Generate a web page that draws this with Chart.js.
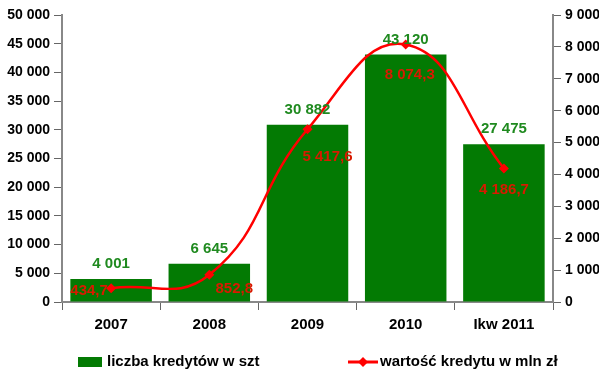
<!DOCTYPE html>
<html><head><meta charset="utf-8">
<script src="https://cdn.jsdelivr.net/npm/chart.js@4/dist/chart.umd.min.js"></script>
<style>html,body{margin:0;padding:0;background:#fff}#wrap{width:599px;height:379px}</style>
</head><body><div id="wrap"><canvas id="c" width="599" height="379"></canvas></div>
<script>
const categories = ['2007', '2008', '2009', '2010', 'Ikw 2011'];
const loanCounts = [4001, 6645, 30882, 43120, 27475];
const loanValues = [434.7, 852.8, 5417.6, 8074.3, 4186.7];
const leftTicks = [0, 5000, 10000, 15000, 20000, 25000, 30000, 35000, 40000, 45000, 50000];
const rightTicks = [0, 1000, 2000, 3000, 4000, 5000, 6000, 7000, 8000, 9000];
const seriesNames = ['liczba kredytów w szt', 'wartość kredytu w mln zł'];

function fmt(v, dec) {
  const s = v.toFixed(dec);
  const parts = s.split('.');
  const int = parts[0].replace(/\B(?=(\d{3})+(?!\d))/g, ' ');
  return parts[1] ? int + ',' + parts[1] : int;
}

const FONT = '"Liberation Sans", Arial, sans-serif';
const GREEN = '#037a03';
const RED = '#ff0000';

const labelOffsets = [[-22, 3], [25, 14], [20, 28], [4, 30], [0, 21]];

const valueLabels = {
  id: 'valueLabels',
  afterDatasetsDraw(chart) {
    const ctx = chart.ctx;
    ctx.save();
    ctx.font = 'bold 15px ' + FONT;
    ctx.textAlign = 'center';
    ctx.textBaseline = 'middle';
    const bm = chart.getDatasetMeta(1);
    bm.data.forEach((el, i) => {
      ctx.fillStyle = '#1f8a1f';
      ctx.fillText(fmt(loanCounts[i], 0), el.x, el.y - 15);
    });
    const lm = chart.getDatasetMeta(0);
    lm.data.forEach((el, i) => {
      ctx.fillStyle = '#d81a00';
      ctx.fillText(fmt(loanValues[i], 1), el.x + labelOffsets[i][0], el.y + labelOffsets[i][1]);
    });
    ctx.restore();
  },
  afterDraw(chart) {
    const ctx = chart.ctx;
    const y = 362;
    ctx.save();
    ctx.font = 'bold 15px ' + FONT;
    ctx.textAlign = 'left';
    ctx.textBaseline = 'middle';
    ctx.fillStyle = GREEN;
    ctx.fillRect(78, y - 5, 24, 10);
    ctx.fillStyle = '#000';
    ctx.fillText(seriesNames[0], 107, y);
    ctx.strokeStyle = RED; ctx.lineWidth = 3;
    ctx.beginPath(); ctx.moveTo(348, y); ctx.lineTo(378, y); ctx.stroke();
    ctx.fillStyle = RED;
    ctx.beginPath(); ctx.moveTo(363, y - 5); ctx.lineTo(368, y); ctx.lineTo(363, y + 5); ctx.lineTo(358, y); ctx.closePath(); ctx.fill();
    ctx.fillStyle = '#000';
    ctx.fillText(seriesNames[1], 380, y);
    ctx.restore();
  }
};

Chart.defaults.font.family = FONT;
new Chart(document.getElementById('c'), {
  data: {
    labels: categories,
    datasets: [
      {
        type: 'line', label: seriesNames[1], data: loanValues, yAxisID: 'y2',
        borderColor: RED, backgroundColor: RED, borderWidth: 2.5, tension: 0.45,
        pointStyle: 'rectRot', pointRadius: 5, pointBackgroundColor: RED, pointBorderWidth: 0, order: 0
      },
      {
        type: 'bar', label: seriesNames[0], data: loanCounts, yAxisID: 'y',
        backgroundColor: GREEN, barPercentage: 0.83, categoryPercentage: 1, order: 1
      }
    ]
  },
  options: {
    responsive: false, animation: false, devicePixelRatio: 1,
    layout: { padding: { top: 15, left: 0, right: 0, bottom: 39 } },
    plugins: {
      tooltip: { enabled: false },
      legend: { display: false }
    },
    scales: {
      x: {
        offset: true,
        grid: { display: true, drawOnChartArea: false, offset: true, color: '#666', tickLength: 8, lineWidth: 1 },
        border: { color: '#888', width: 2 },
        ticks: { color: '#000', font: { size: 15, weight: 'bold' }, padding: 6 },
        afterFit(s) { s.height = 38; }
      },
      y: {
        position: 'left', min: 0, max: 50000,
        afterBuildTicks(s) { s.ticks = leftTicks.map(v => ({ value: v })); },
        grid: { drawOnChartArea: false, color: '#666', tickLength: 8 },
        border: { color: '#888', width: 2 },
        ticks: { color: '#000', font: { size: 14, weight: 'bold' }, padding: 4, callback: v => fmt(v, 0) },
        afterFit(s) { s.width = 62; }
      },
      y2: {
        position: 'right', min: 0, max: 9000,
        afterBuildTicks(s) { s.ticks = rightTicks.map(v => ({ value: v })); },
        grid: { drawOnChartArea: false, color: '#666', tickLength: 8 },
        border: { color: '#888', width: 2 },
        ticks: { color: '#000', font: { size: 14, weight: 'bold' }, padding: 4, callback: v => fmt(v, 0) },
        afterFit(s) { s.width = 46; }
      }
    }
  },
  plugins: [valueLabels]
});
</script></body></html>
